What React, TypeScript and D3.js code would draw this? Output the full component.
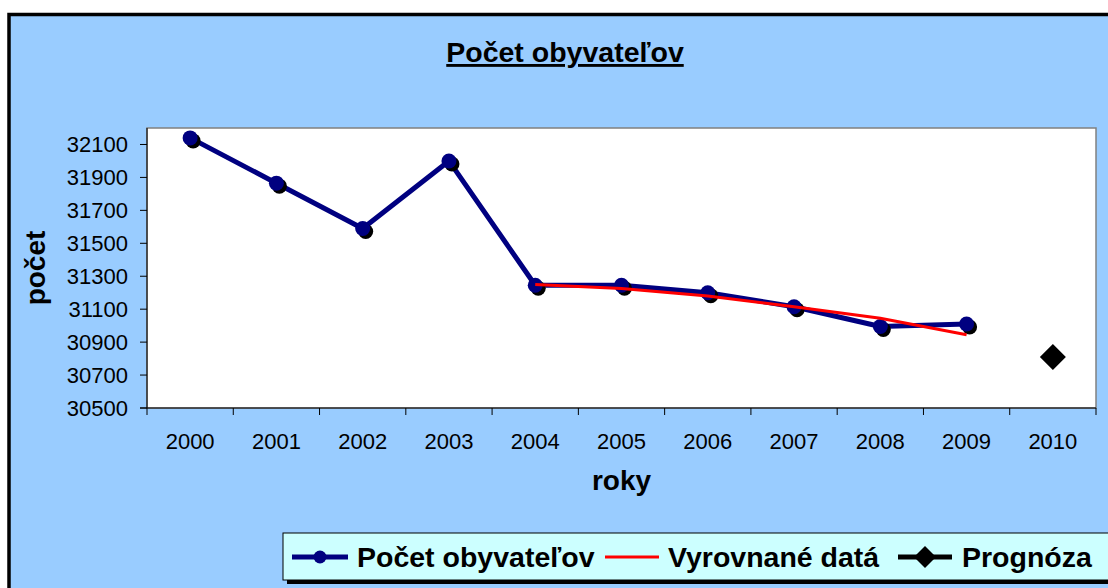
import React from "react";
import * as d3 from "d3";

const years = ["2000", "2001", "2002", "2003", "2004", "2005", "2006", "2007", "2008", "2009", "2010"];
const populationYears = ["2000", "2001", "2002", "2003", "2004", "2005", "2006", "2007", "2008", "2009"];
const population = [32140, 31865, 31590, 32000, 31245, 31245, 31200, 31115, 30995, 31010];
const smoothedYears = ["2004", "2005", "2006", "2007", "2008", "2009"];
const smoothed = [31250, 31225, 31180, 31115, 31045, 30945];
const forecastYears = ["2010"];
const forecast = [30810];
const yTicks = [30500, 30700, 30900, 31100, 31300, 31500, 31700, 31900, 32100];

const title = "Počet obyvateľov";
const yTitle = "počet";
const xTitle = "roky";
const legendLabels = ["Počet obyvateľov", "Vyrovnané datá", "Prognóza"];

const W = 1108;
const H = 588;
const FONT = "'Liberation Sans', Arial, sans-serif";

export default function App() {
  const plot = { left: 147, right: 1096, top: 128, bottom: 408 };
  const x = d3.scaleBand<string>().domain(years).range([plot.left, plot.right]).padding(0);
  const y = d3.scaleLinear().domain([30500, 32200]).range([plot.bottom, plot.top]);
  const cx = (yr: string) => (x(yr) as number) + x.bandwidth() / 2;

  const popPts: [number, number][] = populationYears.map((yr, i) => [cx(yr), y(population[i])]);
  const smPts: [number, number][] = smoothedYears.map((yr, i) => [cx(yr), y(smoothed[i])]);
  const fcPts: [number, number][] = forecastYears.map((yr, i) => [cx(yr), y(forecast[i])]);
  const line = d3.line<[number, number]>();

  const diamond = (px: number, py: number, r: number) =>
    `M${px},${py - r}L${px + r},${py}L${px},${py + r}L${px - r},${py}Z`;

  const boundaries = years.map((yr) => x(yr) as number).concat([plot.right]);

  const legY = 557;
  return (
    <svg
      width={W}
      height={H}
      style={{ position: "absolute", left: 0, top: 0, display: "block" }}
      fontFamily={FONT}
    >
      <rect x={0} y={0} width={W} height={H} fill="#ffffff" />
      <rect x={9} y={14.5} width={1130} height={600} fill="#99CCFF" stroke="#000" strokeWidth={3.5} />

      {/* title */}
      <text
        x={565}
        y={62}
        textAnchor="middle"
        fontSize={28.5}
        fontWeight="bold"
        textDecoration="underline"
        fill="#000"
      >
        {title}
      </text>

      {/* plot area */}
      <rect
        x={plot.left}
        y={plot.top}
        width={plot.right - plot.left}
        height={plot.bottom - plot.top}
        fill="#fff"
        stroke="#808080"
        strokeWidth={1.5}
      />
      {/* axes */}
      <line x1={plot.left} x2={plot.left} y1={plot.top} y2={plot.bottom} stroke="#000" strokeWidth={1} />
      <line x1={plot.left - 7} x2={plot.right} y1={plot.bottom} y2={plot.bottom} stroke="#000" strokeWidth={1} />
      {yTicks.map((t) => (
        <g key={t}>
          <line x1={plot.left - 7} x2={plot.left} y1={y(t)} y2={y(t)} stroke="#000" strokeWidth={1} />
          <text x={128} y={y(t)} dy="0.36em" textAnchor="end" fontSize={22} fill="#000">
            {t}
          </text>
        </g>
      ))}
      {boundaries.map((b, i) => (
        <line key={i} x1={b} x2={b} y1={plot.bottom} y2={plot.bottom + 7} stroke="#000" strokeWidth={1} />
      ))}
      {years.map((yr) => (
        <text key={yr} x={cx(yr)} y={449} textAnchor="middle" fontSize={22} fill="#000">
          {yr}
        </text>
      ))}
      <text x={(plot.left + plot.right) / 2} y={490} textAnchor="middle" fontSize={28} fontWeight="bold" fill="#000">
        {xTitle}
      </text>
      <text
        transform={`translate(45,${(plot.top + plot.bottom) / 2}) rotate(-90)`}
        textAnchor="middle"
        fontSize={28}
        fontWeight="bold"
        fill="#000"
      >
        {yTitle}
      </text>

      {/* population series */}
      <path d={line(popPts) as string} fill="none" stroke="#000080" strokeWidth={5} strokeLinejoin="round" />
      {popPts.map(([px, py], i) => (
        <circle key={"s" + i} cx={px + 3} cy={py + 3} r={7.5} fill="#000" />
      ))}
      {popPts.map(([px, py], i) => (
        <circle key={"m" + i} cx={px} cy={py} r={7.5} fill="#000080" />
      ))}
      {/* smoothed */}
      <path d={line(smPts) as string} fill="none" stroke="#FF0000" strokeWidth={3} />
      {/* forecast */}
      {fcPts.map(([px, py], i) => (
        <path key={i} d={diamond(px, py, 13)} fill="#000" />
      ))}

      {/* legend */}
      <rect x={287} y={537} width={840} height={47} fill="#000" />
      <rect x={283} y={533} width={840} height={47} fill="#CCFFFF" stroke="#000" strokeWidth={1} />
      <line x1={292} x2={348} y1={legY} y2={legY} stroke="#000080" strokeWidth={5} />
      <circle cx={320} cy={legY} r={6.5} fill="#000080" />
      <text x={357} y={legY} dy="0.36em" fontSize={28.5} fontWeight="bold" fill="#000">
        {legendLabels[0]}
      </text>
      <line x1={605} x2={659} y1={legY} y2={legY} stroke="#FF0000" strokeWidth={3} />
      <text x={668} y={legY} dy="0.36em" fontSize={28.5} fontWeight="bold" fill="#000">
        {legendLabels[1]}
      </text>
      <line x1={898} x2={952} y1={legY} y2={legY} stroke="#000" strokeWidth={5} />
      <path d={diamond(925, legY, 11)} fill="#000" />
      <text x={962} y={legY} dy="0.36em" fontSize={28.5} fontWeight="bold" fill="#000">
        {legendLabels[2]}
      </text>
    </svg>
  );
}
